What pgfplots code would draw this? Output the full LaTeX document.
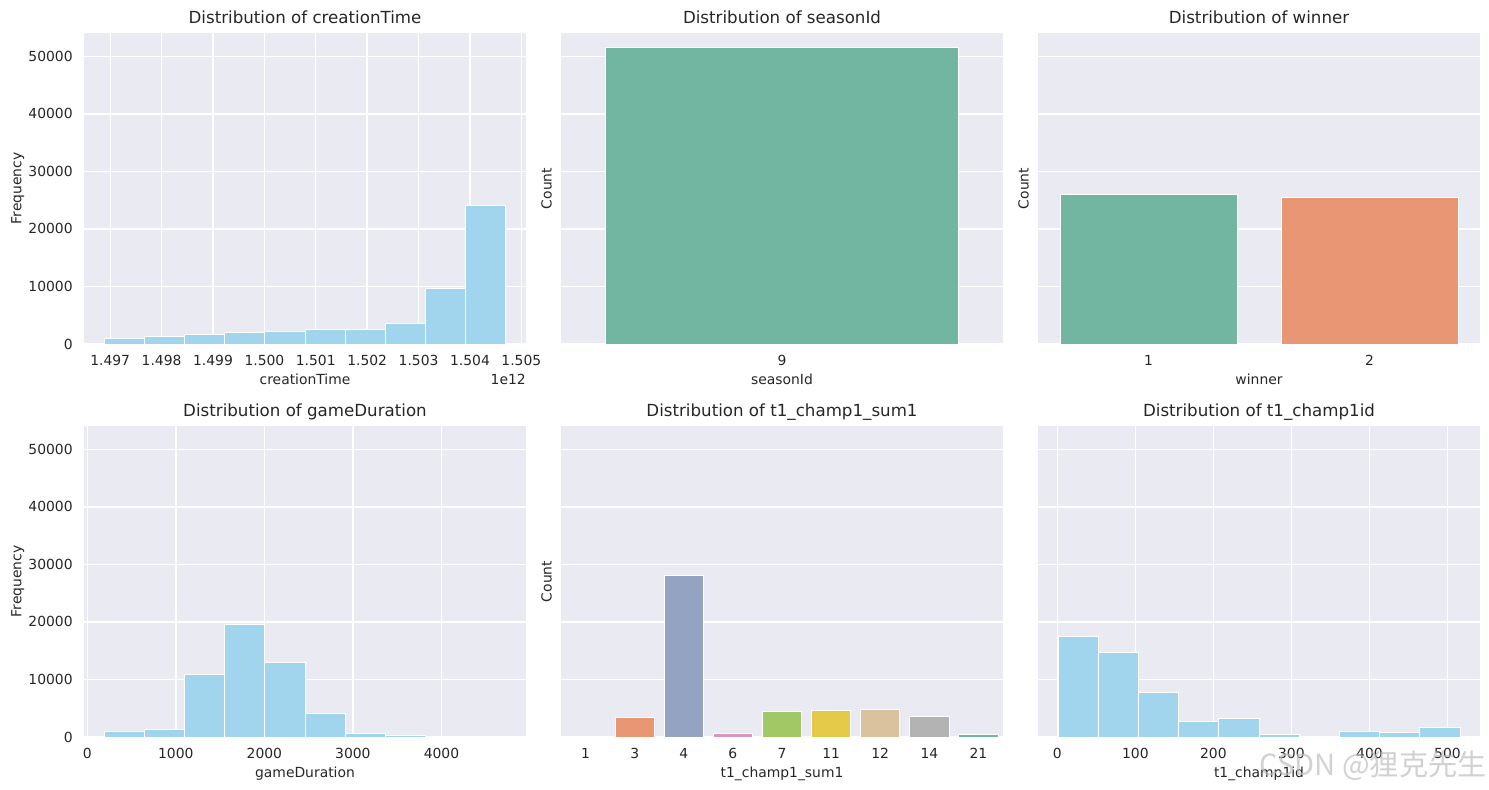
\documentclass[border=0pt]{standalone}
\usepackage{pgfplots}
\pgfplotsset{compat=1.18}
\usepackage{fontspec}
\setmainfont{DejaVu Sans}
\newfontfamily\cjk{Noto Sans CJK SC}
\definecolor{bgc}{RGB}{234,234,242}
\definecolor{txt}{RGB}{38,38,38}
\definecolor{hist}{RGB}{160,213,237}
\definecolor{sA}{RGB}{114,182,161}
\definecolor{sB}{RGB}{233,150,117}
\definecolor{sC}{RGB}{149,163,195}
\definecolor{sD}{RGB}{219,150,192}
\definecolor{sE}{RGB}{162,200,101}
\definecolor{sF}{RGB}{229,201,73}
\definecolor{sG}{RGB}{219,194,158}
\definecolor{sH}{RGB}{179,179,179}
\pgfplotsset{
 sb/.style={
  scale only axis, width=318.24pt, height=224pt,
  anchor=south west,
  axis background/.style={fill=bgc},
  axis line style={draw=none},
  major tick length=0pt,
  grid=major,
  major grid style={white, line width=1pt},
  ymin=0, ymax=54065,
  ytick={0,10000,20000,30000,40000,50000},
  scaled ticks=false,
  /pgf/number format/assume math mode=true,
  tick label style={font=\fontsize{10}{12}\selectfont, text=txt, inner sep=0pt},
  xticklabel style={anchor=base, yshift=-15.2pt},
  yticklabel style={anchor=east, xshift=-8pt},
  label style={font=\fontsize{10}{12}\selectfont, text=txt, inner sep=0pt},
  xlabel style={at={(axis description cs:0.5,0)}, anchor=north, yshift=-21.4pt},
  title style={font=\fontsize{12}{14}\selectfont, text=txt, at={(axis description cs:0.5,1)}, anchor=base, yshift=0.4pt, inner sep=0pt},
 },
 yfull/.style={yticklabels={0,10000,20000,30000,40000,50000},
   ylabel style={at={(axis description cs:-0.150,0.5)}, anchor=center}},
 ynone/.style={yticklabels={},
   ylabel style={at={(axis description cs:-0.0327,0.5)}, anchor=center}},
 cat/.style={xmajorgrids=false},
 hbar/.style={ybar interval, fill=hist, draw=white, line width=0.6pt},
 cbar/.style={ybar, bar width=0.8, bar shift=0pt, draw=white, line width=0.6pt, fill=#1},
}
\begin{document}
\begin{tikzpicture}
\useasboundingbox (0,0) rectangle (1072.08pt,-568.8pt);
% ---------- creationTime
\begin{axis}[sb, yfull, at={(60.48pt,-247.68pt)}, clip=false,
  title={Distribution of creationTime}, xlabel={creationTime}, ylabel={Frequency},
  xmin=1.49649, xmax=1.50509,
  xtick={1.497,1.498,1.499,1.500,1.501,1.502,1.503,1.504,1.505},
  xticklabels={1.497,1.498,1.499,1.500,1.501,1.502,1.503,1.504,1.505}]
\addplot[hbar] coordinates {(1.49688,900)(1.49766,1250)(1.49844,1650)(1.49922,2000)(1.50000,2200)(1.50079,2550)(1.50157,2550)(1.50235,3600)(1.50313,9650)(1.50391,24050)(1.50469,0)};
\node[anchor=north east, inner sep=0pt, font=\fontsize{10}{12}\selectfont, text=txt] at ([yshift=-21.4pt]rel axis cs:1,0) {1e12};
\end{axis}
% ---------- seasonId
\begin{axis}[sb, ynone, cat, at={(403.92pt,-247.68pt)},
  title={Distribution of seasonId}, xlabel={seasonId}, ylabel={Count},
  xmin=-0.5, xmax=0.5, xtick={0}, xticklabels={9}]
\addplot[cbar=sA] coordinates {(0,51490)};
\end{axis}
% ---------- winner
\begin{axis}[sb, ynone, cat, at={(747.36pt,-247.68pt)},
  title={Distribution of winner}, xlabel={winner}, ylabel={Count},
  xmin=-0.5, xmax=1.5, xtick={0,1}, xticklabels={1,2}]
\addplot[cbar=sA] coordinates {(0,26080)};
\addplot[cbar=sB] coordinates {(1,25410)};
\end{axis}
% ---------- gameDuration
\begin{axis}[sb, yfull, at={(60.48pt,-530.64pt)},
  title={Distribution of gameDuration}, xlabel={gameDuration}, ylabel={Frequency},
  xmin=-37, xmax=4955,
  xtick={0,1000,2000,3000,4000}, xticklabels={0,1000,2000,3000,4000}]
\addplot[hbar] coordinates {(190,1040)(644,1390)(1098,10940)(1551,19620)(2005,13020)(2459,4050)(2913,690)(3367,230)(3820,170)(4274,50)(4728,0)};
\end{axis}
% ---------- t1_champ1_sum1
\begin{axis}[sb, ynone, cat, at={(403.92pt,-530.64pt)},
  title={Distribution of t1\_champ1\_sum1}, xlabel={t1\_champ1\_sum1}, ylabel={Count},
  xmin=-0.5, xmax=8.5, xtick={0,1,2,3,4,5,6,7,8},
  xticklabels={1,3,4,6,7,11,12,14,21}]
\addplot[cbar=sA] coordinates {(0,115)};
\addplot[cbar=sB] coordinates {(1,3470)};
\addplot[cbar=sC] coordinates {(2,28130)};
\addplot[cbar=sD] coordinates {(3,690)};
\addplot[cbar=sE] coordinates {(4,4510)};
\addplot[cbar=sF] coordinates {(5,4690)};
\addplot[cbar=sG] coordinates {(6,4860)};
\addplot[cbar=sH] coordinates {(7,3650)};
\addplot[cbar=sA] coordinates {(8,520)};
\end{axis}
% ---------- t1_champ1id
\begin{axis}[sb, ynone, at={(747.36pt,-530.64pt)},
  title={Distribution of t1\_champ1id}, xlabel={t1\_champ1id},
  xmin=-24.75, xmax=541.75,
  xtick={0,100,200,300,400,500}, xticklabels={0,100,200,300,400,500}]
\addplot[hbar] coordinates {(1,17480)(52.5,14760)(104,7810)(155.5,2780)(207,3300)(258.5,520)(310,0)(361.5,1040)(413,810)(464.5,1680)(516,0)};
\end{axis}
\node[anchor=east, inner sep=0pt, text={rgb,255:red,190;green,190;blue,190}, opacity=0.7, font=\cjk\fontsize{21}{25}\selectfont] at (1070.5pt,-551.5pt) {CSDN @狸克先生};
\end{tikzpicture}
\end{document}
